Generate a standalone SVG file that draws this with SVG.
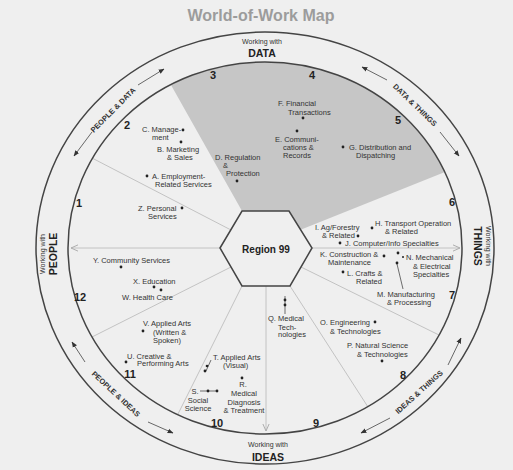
<svg xmlns="http://www.w3.org/2000/svg" width="513" height="470" viewBox="0 0 513 470">
<defs>
<style>
.t{font-family:"Liberation Sans",Arial,sans-serif;font-size:7.5px;fill:#333}
.num{font-family:"Liberation Sans",Arial,sans-serif;font-size:11px;font-weight:bold;fill:#222;text-anchor:middle}
.ring{font-family:"Liberation Sans",Arial,sans-serif;font-size:7.5px;font-weight:bold;fill:#333;text-anchor:middle}
.ww{font-family:"Liberation Sans",Arial,sans-serif;font-size:7px;fill:#333;text-anchor:middle}
.ax{font-family:"Liberation Sans",Arial,sans-serif;font-size:10.5px;font-weight:bold;fill:#222;text-anchor:middle}
.circ{fill:none;stroke:#444;stroke-width:1.5}
.sect{fill:none;stroke:#bdbdbd;stroke-width:0.9}
.arr{fill:none;stroke:#444;stroke-width:0.8}
.dot{fill:#222}
.lead{stroke:#333;stroke-width:0.7;fill:none}
</style>
<marker id="ah" viewBox="0 0 10 10" refX="9" refY="5" markerWidth="6" markerHeight="6" markerUnits="userSpaceOnUse" orient="auto"><path d="M0,1 L10,5 L0,9 z" fill="#333"/></marker>
<marker id="fa" viewBox="0 0 10 10" refX="9" refY="5" markerWidth="8" markerHeight="8" markerUnits="userSpaceOnUse" orient="auto"><path d="M0,1 L9,5 L0,9" fill="none" stroke="#aaa" stroke-width="1.2"/></marker>
</defs>
<rect width="513" height="470" fill="#efefef"/>
<text x="261" y="21" text-anchor="middle" style="font-family:'Liberation Sans',Arial,sans-serif;font-size:16px;font-weight:bold;fill:#9c9c9c">World-of-Work Map</text>

<g id="shade">
<path d="M242,211 L171,85 A197,186 0 0 1 445,172 L300,230 L288,211 Z" fill="#c6c6c6"/>
</g>

<g id="connectors">
<line class="sect" x1="220" y1="248" x2="71" y2="248" marker-end="url(#fa)"/>
<line class="sect" x1="312" y1="248" x2="460" y2="248" marker-end="url(#fa)"/>
<line class="sect" x1="266" y1="286" x2="266" y2="431" marker-end="url(#fa)"/>
<line class="sect" x1="231" y1="230" x2="92" y2="158"/>
<line class="sect" x1="231" y1="267" x2="92" y2="337"/>
<line class="sect" x1="242" y1="286" x2="178" y2="414"/>
<line class="sect" x1="290" y1="286" x2="368" y2="407"/>
<line class="sect" x1="301" y1="267" x2="439" y2="335"/>
<line class="arr" x1="92" y1="132" x2="74" y2="156" marker-end="url(#ah)"/>
<line class="arr" x1="138" y1="85" x2="164" y2="69" marker-end="url(#ah)"/>
<line class="arr" x1="387" y1="80" x2="362" y2="67" marker-end="url(#ah)"/>
<line class="arr" x1="440" y1="132" x2="459" y2="156" marker-end="url(#ah)"/>
<line class="arr" x1="85" y1="362" x2="72" y2="342" marker-end="url(#ah)"/>
<line class="arr" x1="148" y1="422" x2="173" y2="433" marker-end="url(#ah)"/>
<line class="arr" x1="390" y1="418" x2="361" y2="433" marker-end="url(#ah)"/>
<line class="arr" x1="448" y1="365" x2="461" y2="338" marker-end="url(#ah)"/>
</g>

<g id="rings">
<ellipse class="circ" cx="265" cy="248" rx="229" ry="216"/>
<ellipse class="circ" cx="265" cy="248" rx="197" ry="186"/>
</g>

<g id="ring-labels">
<text class="ring" transform="translate(113,110) rotate(-45)" dy="2.6">PEOPLE &amp; DATA</text>
<text class="ring" transform="translate(415,105) rotate(44)" dy="2.6">DATA &amp; THINGS</text>
<text class="ring" transform="translate(116,394) rotate(43)" dy="2.6">PEOPLE &amp; IDEAS</text>
<text class="ring" transform="translate(419,392) rotate(-42)" dy="2.6">IDEAS &amp; THINGS</text>
</g>

<g id="axis-data"><text class="ww" x="262" y="44">Working with</text><text class="ax" x="262" y="57">DATA</text></g>
<g id="axis-people" transform="translate(50,254) rotate(-90)"><text class="ww" x="0" y="-5">Working with</text><text class="ax" x="0" y="7">PEOPLE</text></g>
<g id="axis-things" transform="translate(481,246) rotate(90)"><text class="ww" x="0" y="-5">Working with</text><text class="ax" x="0" y="7">THINGS</text></g>
<g id="axis-ideas"><text class="ww" x="268" y="447">Working with</text><text class="ax" x="268" y="461">IDEAS</text></g>

<g id="region99">
<polygon points="220,248 242,211 289,211 312,248 290,286 242,286" fill="#efefef" stroke="#444" stroke-width="1.5"/>
<text class="ax" x="266" y="253" style="font-size:10px">Region 99</text>
</g>

<g id="numbers">
<text class="num" x="79" y="207">1</text>
<text class="num" x="127" y="129">2</text>
<text class="num" x="213" y="79">3</text>
<text class="num" x="312" y="79">4</text>
<text class="num" x="398" y="124">5</text>
<text class="num" x="452" y="206">6</text>
<text class="num" x="452" y="299">7</text>
<text class="num" x="403" y="379">8</text>
<text class="num" x="316" y="427">9</text>
<text class="num" x="217" y="427">10</text>
<text class="num" x="130" y="378">11</text>
<text class="num" x="80" y="301">12</text>
</g>

<g id="A"><circle class="dot" cx="147" cy="176" r="1.4"/><text class="t" x="152" y="179">A. Employment-</text><text class="t" x="155" y="186.5">Related Services</text></g>
<g id="B"><circle class="dot" cx="181" cy="142" r="1.4"/><text class="t" x="157" y="152">B. Marketing</text><text class="t" x="167" y="160">&amp; Sales</text></g>
<g id="C"><circle class="dot" cx="183" cy="130" r="1.4"/><text class="t" x="142" y="132">C. Manage-</text><text class="t" x="152" y="140">ment</text></g>
<g id="D"><circle class="dot" cx="237" cy="181" r="1.4"/><text class="t" x="215" y="160">D. Regulation</text><text class="t" x="223" y="167.5">&amp;</text><text class="t" x="226" y="176">Protection</text></g>
<g id="E"><circle class="dot" cx="297" cy="131" r="1.4"/><text class="t" x="275" y="142">E. Communi-</text><text class="t" x="283" y="150">cations &amp;</text><text class="t" x="283" y="158">Records</text></g>
<g id="F"><circle class="dot" cx="303" cy="118" r="1.4"/><text class="t" x="278" y="106">F. Financial</text><text class="t" x="288" y="114.5">Transactions</text></g>
<g id="G"><circle class="dot" cx="343" cy="147" r="1.4"/><text class="t" x="349" y="150">G. Distribution and</text><text class="t" x="356" y="158">Dispatching</text></g>
<g id="H"><circle class="dot" cx="372" cy="228" r="1.4"/><text class="t" x="375" y="226">H. Transport Operation</text><text class="t" x="385" y="234">&amp; Related</text></g>
<g id="I"><circle class="dot" cx="358" cy="236" r="1.4"/><text class="t" x="315" y="230">I. Ag/Forestry</text><text class="t" x="322" y="238">&amp; Related</text></g>
<g id="J"><circle class="dot" cx="340" cy="243" r="1.4"/><text class="t" x="345" y="245.5">J. Computer/Info Specialties</text></g>
<g id="K"><circle class="dot" cx="384" cy="256" r="1.4"/><text class="t" x="320" y="257">K. Construction &amp;</text><text class="t" x="328" y="265">Maintenance</text></g>
<g id="L"><circle class="dot" cx="343" cy="272" r="1.4"/><text class="t" x="347" y="276">L. Crafts &amp;</text><text class="t" x="356" y="284">Related</text></g>
<g id="M"><circle class="dot" cx="397" cy="263" r="1.4"/><line class="lead" x1="397" y1="264" x2="403" y2="289"/><text class="t" x="377" y="297">M. Manufacturing</text><text class="t" x="387" y="305">&amp; Processing</text></g>
<g id="N"><circle class="dot" cx="398" cy="253" r="1.4"/><circle class="dot" cx="403" cy="257" r="1"/><text class="t" x="406" y="260">N. Mechanical</text><text class="t" x="413" y="268.5">&amp; Electrical</text><text class="t" x="413" y="277">Specialties</text></g>
<g id="O"><circle class="dot" cx="375" cy="322" r="1.4"/><text class="t" x="320" y="325">O. Engineering</text><text class="t" x="330" y="333.5">&amp; Technologies</text></g>
<g id="P"><circle class="dot" cx="382" cy="361" r="1.4"/><text class="t" x="347" y="348">P. Natural Science</text><text class="t" x="357" y="356.5">&amp; Technologies</text></g>
<g id="Q"><line class="lead" x1="285" y1="296" x2="285" y2="314"/><circle class="dot" cx="285" cy="300" r="1.4"/><circle class="dot" cx="285" cy="305" r="1.4"/><text class="t" x="268" y="321">Q. Medical</text><text class="t" x="278" y="329.5">Tech-</text><text class="t" x="278" y="337">nologies</text></g>
<g id="R"><circle class="dot" cx="242" cy="378" r="1.4"/><text class="t" x="243" y="387" text-anchor="middle">R.</text><text class="t" x="244" y="396" text-anchor="middle">Medical</text><text class="t" x="244" y="404.5" text-anchor="middle">Diagnosis</text><text class="t" x="244" y="413" text-anchor="middle">&amp; Treatment</text></g>
<g id="S"><line class="lead" x1="200" y1="391" x2="216" y2="391"/><circle class="dot" cx="208" cy="391" r="1.4"/><circle class="dot" cx="217" cy="391" r="1.4"/><text class="t" x="195" y="393.5" text-anchor="middle">S.</text><text class="t" x="198" y="403" text-anchor="middle">Social</text><text class="t" x="198" y="411" text-anchor="middle">Science</text></g>
<g id="T"><line class="lead" x1="211" y1="360" x2="206" y2="371"/><circle class="dot" cx="207" cy="366" r="1.3"/><circle class="dot" cx="205" cy="371" r="1.4"/><text class="t" x="213" y="360">T. Applied Arts</text><text class="t" x="223" y="367.5">(Visual)</text></g>
<g id="U"><circle class="dot" cx="126" cy="362" r="1.4"/><text class="t" x="127" y="358.5">U. Creative &amp;</text><text class="t" x="137" y="366">Performing Arts</text></g>
<g id="V"><circle class="dot" cx="143" cy="331" r="1.4"/><text class="t" x="143" y="326">V. Applied Arts</text><text class="t" x="153" y="334.5">(Written &amp;</text><text class="t" x="153" y="343">Spoken)</text></g>
<g id="W"><text class="t" x="122" y="300">W. Health Care</text></g>
<g id="X"><circle class="dot" cx="154" cy="287" r="1.4"/><circle class="dot" cx="161" cy="290" r="1.4"/><text class="t" x="133" y="284">X. Education</text></g>
<g id="Y"><circle class="dot" cx="121" cy="267" r="1.4"/><text class="t" x="93" y="262.5">Y. Community Services</text></g>
<g id="Z"><circle class="dot" cx="182" cy="208" r="1.4"/><text class="t" x="138" y="211">Z. Personal</text><text class="t" x="148" y="219">Services</text></g>
</svg>
